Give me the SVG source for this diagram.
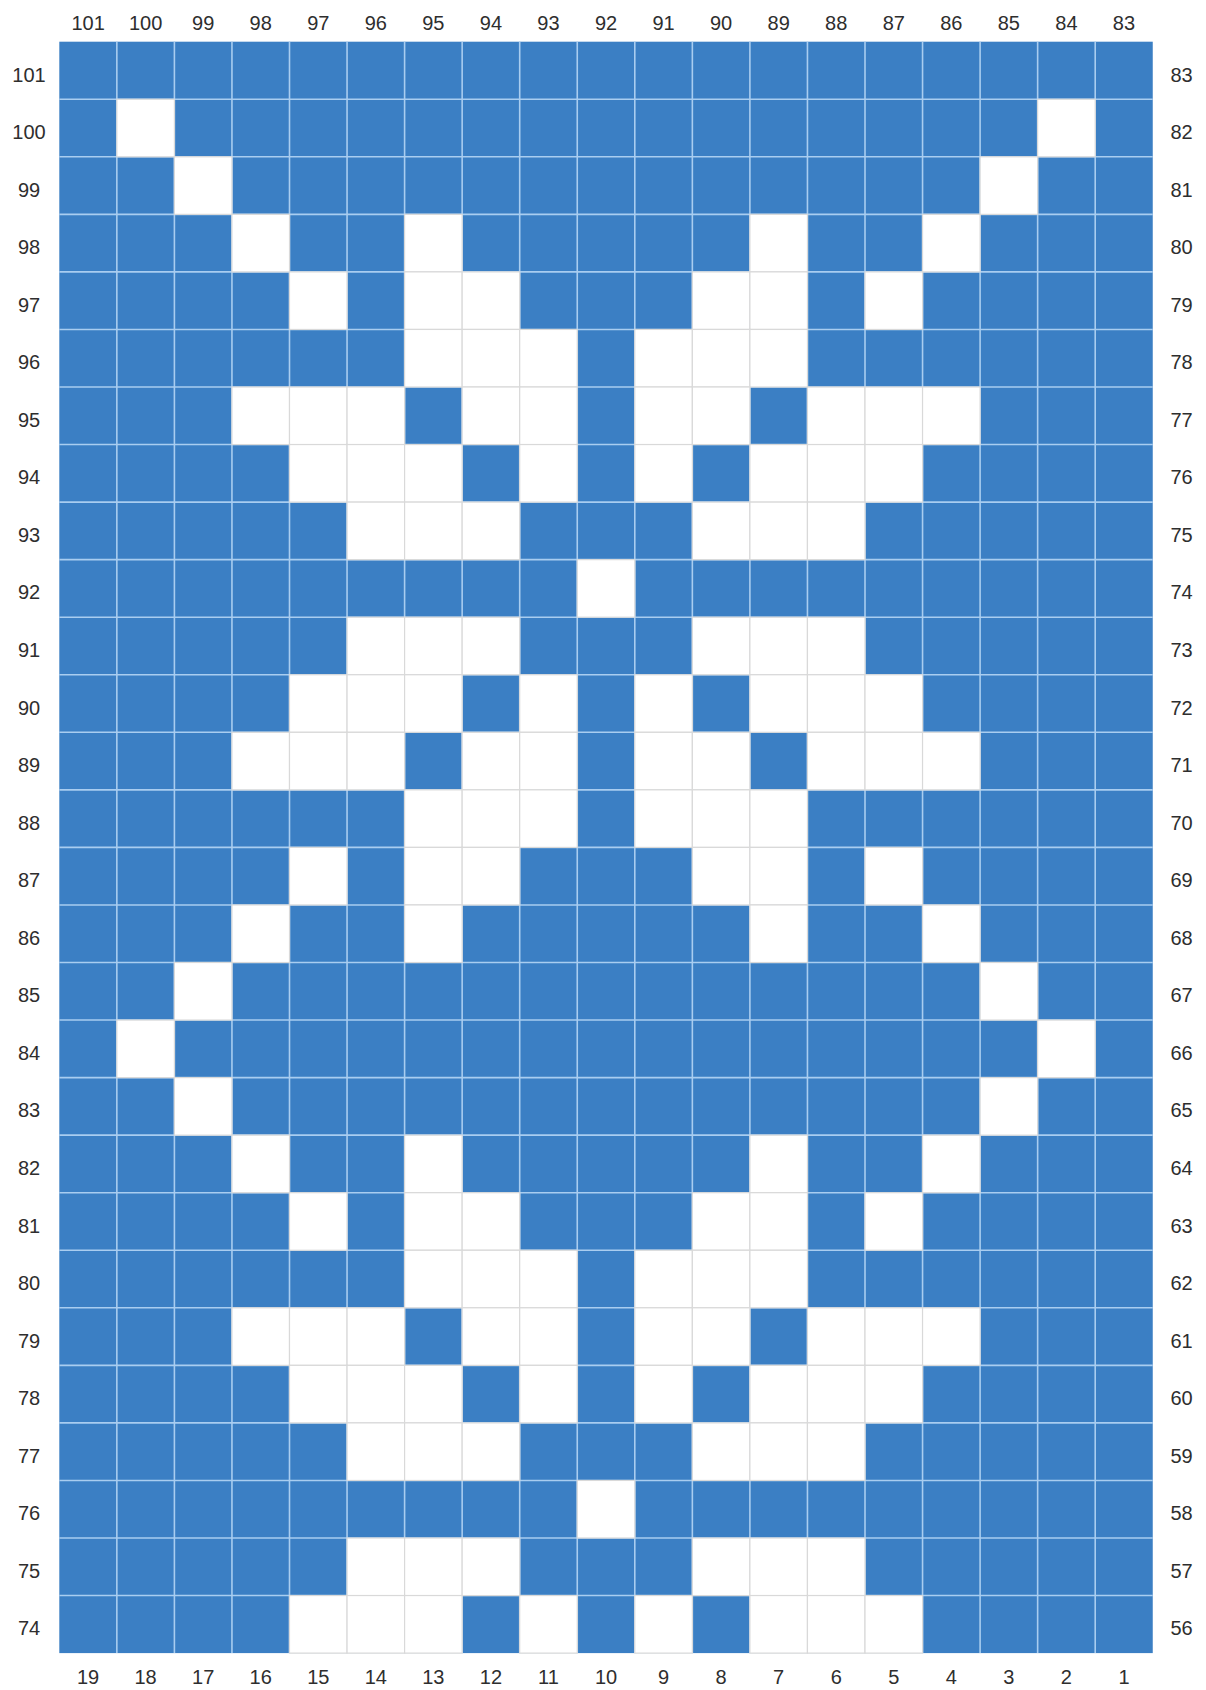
<svg xmlns="http://www.w3.org/2000/svg" xmlns:xlink="http://www.w3.org/1999/xlink" width="1206" height="1690" viewBox="0 0 1206 1690">
<style>
.lbl{font-family:"Liberation Sans",Arial,sans-serif;font-size:20px;fill:#2e2e2e;text-anchor:middle}
.gl{stroke:#a9cdf0;stroke-width:1.6}
.w{fill:#ffffff;stroke:#d9d9d9;stroke-width:1.2}
</style>
<defs>
<rect id="w" width="57.55" height="57.55"/>
</defs>
<rect width="1206" height="1690" fill="#ffffff"/>
<g id="grid">
<rect x="59.3" y="41.7" width="1093.45" height="1611.4" fill="#3b7fc4"/>
<g id="gridlines" class="gl">
<line x1="116.85" y1="41.7" x2="116.85" y2="1653.1"/><line x1="174.4" y1="41.7" x2="174.4" y2="1653.1"/><line x1="231.95" y1="41.7" x2="231.95" y2="1653.1"/><line x1="289.5" y1="41.7" x2="289.5" y2="1653.1"/><line x1="347.05" y1="41.7" x2="347.05" y2="1653.1"/><line x1="404.6" y1="41.7" x2="404.6" y2="1653.1"/><line x1="462.15" y1="41.7" x2="462.15" y2="1653.1"/><line x1="519.7" y1="41.7" x2="519.7" y2="1653.1"/><line x1="577.25" y1="41.7" x2="577.25" y2="1653.1"/><line x1="634.8" y1="41.7" x2="634.8" y2="1653.1"/><line x1="692.35" y1="41.7" x2="692.35" y2="1653.1"/><line x1="749.9" y1="41.7" x2="749.9" y2="1653.1"/><line x1="807.45" y1="41.7" x2="807.45" y2="1653.1"/><line x1="865" y1="41.7" x2="865" y2="1653.1"/><line x1="922.55" y1="41.7" x2="922.55" y2="1653.1"/><line x1="980.1" y1="41.7" x2="980.1" y2="1653.1"/><line x1="1037.65" y1="41.7" x2="1037.65" y2="1653.1"/><line x1="1095.2" y1="41.7" x2="1095.2" y2="1653.1"/>
<line x1="59.3" y1="99.25" x2="1152.75" y2="99.25"/><line x1="59.3" y1="156.8" x2="1152.75" y2="156.8"/><line x1="59.3" y1="214.35" x2="1152.75" y2="214.35"/><line x1="59.3" y1="271.9" x2="1152.75" y2="271.9"/><line x1="59.3" y1="329.45" x2="1152.75" y2="329.45"/><line x1="59.3" y1="387" x2="1152.75" y2="387"/><line x1="59.3" y1="444.55" x2="1152.75" y2="444.55"/><line x1="59.3" y1="502.1" x2="1152.75" y2="502.1"/><line x1="59.3" y1="559.65" x2="1152.75" y2="559.65"/><line x1="59.3" y1="617.2" x2="1152.75" y2="617.2"/><line x1="59.3" y1="674.75" x2="1152.75" y2="674.75"/><line x1="59.3" y1="732.3" x2="1152.75" y2="732.3"/><line x1="59.3" y1="789.85" x2="1152.75" y2="789.85"/><line x1="59.3" y1="847.4" x2="1152.75" y2="847.4"/><line x1="59.3" y1="904.95" x2="1152.75" y2="904.95"/><line x1="59.3" y1="962.5" x2="1152.75" y2="962.5"/><line x1="59.3" y1="1020.05" x2="1152.75" y2="1020.05"/><line x1="59.3" y1="1077.6" x2="1152.75" y2="1077.6"/><line x1="59.3" y1="1135.15" x2="1152.75" y2="1135.15"/><line x1="59.3" y1="1192.7" x2="1152.75" y2="1192.7"/><line x1="59.3" y1="1250.25" x2="1152.75" y2="1250.25"/><line x1="59.3" y1="1307.8" x2="1152.75" y2="1307.8"/><line x1="59.3" y1="1365.35" x2="1152.75" y2="1365.35"/><line x1="59.3" y1="1422.9" x2="1152.75" y2="1422.9"/><line x1="59.3" y1="1480.45" x2="1152.75" y2="1480.45"/><line x1="59.3" y1="1538" x2="1152.75" y2="1538"/><line x1="59.3" y1="1595.55" x2="1152.75" y2="1595.55"/>
</g>
<g id="white-cells" class="w">
<use xlink:href="#w" x="116.85" y="99.25"/><use xlink:href="#w" x="1037.65" y="99.25"/>
<use xlink:href="#w" x="174.4" y="156.8"/><use xlink:href="#w" x="980.1" y="156.8"/>
<use xlink:href="#w" x="231.95" y="214.35"/><use xlink:href="#w" x="404.6" y="214.35"/><use xlink:href="#w" x="749.9" y="214.35"/><use xlink:href="#w" x="922.55" y="214.35"/>
<use xlink:href="#w" x="289.5" y="271.9"/><use xlink:href="#w" x="404.6" y="271.9"/><use xlink:href="#w" x="462.15" y="271.9"/><use xlink:href="#w" x="692.35" y="271.9"/><use xlink:href="#w" x="749.9" y="271.9"/><use xlink:href="#w" x="865" y="271.9"/>
<use xlink:href="#w" x="404.6" y="329.45"/><use xlink:href="#w" x="462.15" y="329.45"/><use xlink:href="#w" x="519.7" y="329.45"/><use xlink:href="#w" x="634.8" y="329.45"/><use xlink:href="#w" x="692.35" y="329.45"/><use xlink:href="#w" x="749.9" y="329.45"/>
<use xlink:href="#w" x="231.95" y="387"/><use xlink:href="#w" x="289.5" y="387"/><use xlink:href="#w" x="347.05" y="387"/><use xlink:href="#w" x="462.15" y="387"/><use xlink:href="#w" x="519.7" y="387"/><use xlink:href="#w" x="634.8" y="387"/><use xlink:href="#w" x="692.35" y="387"/><use xlink:href="#w" x="807.45" y="387"/><use xlink:href="#w" x="865" y="387"/><use xlink:href="#w" x="922.55" y="387"/>
<use xlink:href="#w" x="289.5" y="444.55"/><use xlink:href="#w" x="347.05" y="444.55"/><use xlink:href="#w" x="404.6" y="444.55"/><use xlink:href="#w" x="519.7" y="444.55"/><use xlink:href="#w" x="634.8" y="444.55"/><use xlink:href="#w" x="749.9" y="444.55"/><use xlink:href="#w" x="807.45" y="444.55"/><use xlink:href="#w" x="865" y="444.55"/>
<use xlink:href="#w" x="347.05" y="502.1"/><use xlink:href="#w" x="404.6" y="502.1"/><use xlink:href="#w" x="462.15" y="502.1"/><use xlink:href="#w" x="692.35" y="502.1"/><use xlink:href="#w" x="749.9" y="502.1"/><use xlink:href="#w" x="807.45" y="502.1"/>
<use xlink:href="#w" x="577.25" y="559.65"/>
<use xlink:href="#w" x="347.05" y="617.2"/><use xlink:href="#w" x="404.6" y="617.2"/><use xlink:href="#w" x="462.15" y="617.2"/><use xlink:href="#w" x="692.35" y="617.2"/><use xlink:href="#w" x="749.9" y="617.2"/><use xlink:href="#w" x="807.45" y="617.2"/>
<use xlink:href="#w" x="289.5" y="674.75"/><use xlink:href="#w" x="347.05" y="674.75"/><use xlink:href="#w" x="404.6" y="674.75"/><use xlink:href="#w" x="519.7" y="674.75"/><use xlink:href="#w" x="634.8" y="674.75"/><use xlink:href="#w" x="749.9" y="674.75"/><use xlink:href="#w" x="807.45" y="674.75"/><use xlink:href="#w" x="865" y="674.75"/>
<use xlink:href="#w" x="231.95" y="732.3"/><use xlink:href="#w" x="289.5" y="732.3"/><use xlink:href="#w" x="347.05" y="732.3"/><use xlink:href="#w" x="462.15" y="732.3"/><use xlink:href="#w" x="519.7" y="732.3"/><use xlink:href="#w" x="634.8" y="732.3"/><use xlink:href="#w" x="692.35" y="732.3"/><use xlink:href="#w" x="807.45" y="732.3"/><use xlink:href="#w" x="865" y="732.3"/><use xlink:href="#w" x="922.55" y="732.3"/>
<use xlink:href="#w" x="404.6" y="789.85"/><use xlink:href="#w" x="462.15" y="789.85"/><use xlink:href="#w" x="519.7" y="789.85"/><use xlink:href="#w" x="634.8" y="789.85"/><use xlink:href="#w" x="692.35" y="789.85"/><use xlink:href="#w" x="749.9" y="789.85"/>
<use xlink:href="#w" x="289.5" y="847.4"/><use xlink:href="#w" x="404.6" y="847.4"/><use xlink:href="#w" x="462.15" y="847.4"/><use xlink:href="#w" x="692.35" y="847.4"/><use xlink:href="#w" x="749.9" y="847.4"/><use xlink:href="#w" x="865" y="847.4"/>
<use xlink:href="#w" x="231.95" y="904.95"/><use xlink:href="#w" x="404.6" y="904.95"/><use xlink:href="#w" x="749.9" y="904.95"/><use xlink:href="#w" x="922.55" y="904.95"/>
<use xlink:href="#w" x="174.4" y="962.5"/><use xlink:href="#w" x="980.1" y="962.5"/>
<use xlink:href="#w" x="116.85" y="1020.05"/><use xlink:href="#w" x="1037.65" y="1020.05"/>
<use xlink:href="#w" x="174.4" y="1077.6"/><use xlink:href="#w" x="980.1" y="1077.6"/>
<use xlink:href="#w" x="231.95" y="1135.15"/><use xlink:href="#w" x="404.6" y="1135.15"/><use xlink:href="#w" x="749.9" y="1135.15"/><use xlink:href="#w" x="922.55" y="1135.15"/>
<use xlink:href="#w" x="289.5" y="1192.7"/><use xlink:href="#w" x="404.6" y="1192.7"/><use xlink:href="#w" x="462.15" y="1192.7"/><use xlink:href="#w" x="692.35" y="1192.7"/><use xlink:href="#w" x="749.9" y="1192.7"/><use xlink:href="#w" x="865" y="1192.7"/>
<use xlink:href="#w" x="404.6" y="1250.25"/><use xlink:href="#w" x="462.15" y="1250.25"/><use xlink:href="#w" x="519.7" y="1250.25"/><use xlink:href="#w" x="634.8" y="1250.25"/><use xlink:href="#w" x="692.35" y="1250.25"/><use xlink:href="#w" x="749.9" y="1250.25"/>
<use xlink:href="#w" x="231.95" y="1307.8"/><use xlink:href="#w" x="289.5" y="1307.8"/><use xlink:href="#w" x="347.05" y="1307.8"/><use xlink:href="#w" x="462.15" y="1307.8"/><use xlink:href="#w" x="519.7" y="1307.8"/><use xlink:href="#w" x="634.8" y="1307.8"/><use xlink:href="#w" x="692.35" y="1307.8"/><use xlink:href="#w" x="807.45" y="1307.8"/><use xlink:href="#w" x="865" y="1307.8"/><use xlink:href="#w" x="922.55" y="1307.8"/>
<use xlink:href="#w" x="289.5" y="1365.35"/><use xlink:href="#w" x="347.05" y="1365.35"/><use xlink:href="#w" x="404.6" y="1365.35"/><use xlink:href="#w" x="519.7" y="1365.35"/><use xlink:href="#w" x="634.8" y="1365.35"/><use xlink:href="#w" x="749.9" y="1365.35"/><use xlink:href="#w" x="807.45" y="1365.35"/><use xlink:href="#w" x="865" y="1365.35"/>
<use xlink:href="#w" x="347.05" y="1422.9"/><use xlink:href="#w" x="404.6" y="1422.9"/><use xlink:href="#w" x="462.15" y="1422.9"/><use xlink:href="#w" x="692.35" y="1422.9"/><use xlink:href="#w" x="749.9" y="1422.9"/><use xlink:href="#w" x="807.45" y="1422.9"/>
<use xlink:href="#w" x="577.25" y="1480.45"/>
<use xlink:href="#w" x="347.05" y="1538"/><use xlink:href="#w" x="404.6" y="1538"/><use xlink:href="#w" x="462.15" y="1538"/><use xlink:href="#w" x="692.35" y="1538"/><use xlink:href="#w" x="749.9" y="1538"/><use xlink:href="#w" x="807.45" y="1538"/>
<use xlink:href="#w" x="289.5" y="1595.55"/><use xlink:href="#w" x="347.05" y="1595.55"/><use xlink:href="#w" x="404.6" y="1595.55"/><use xlink:href="#w" x="519.7" y="1595.55"/><use xlink:href="#w" x="634.8" y="1595.55"/><use xlink:href="#w" x="749.9" y="1595.55"/><use xlink:href="#w" x="807.45" y="1595.55"/><use xlink:href="#w" x="865" y="1595.55"/>
</g>
</g>
<g id="top-labels" class="lbl">
<text x="88.08" y="30">101</text><text x="145.63" y="30">100</text><text x="203.18" y="30">99</text><text x="260.73" y="30">98</text><text x="318.28" y="30">97</text><text x="375.83" y="30">96</text><text x="433.38" y="30">95</text><text x="490.93" y="30">94</text><text x="548.48" y="30">93</text><text x="606.03" y="30">92</text><text x="663.58" y="30">91</text><text x="721.13" y="30">90</text><text x="778.68" y="30">89</text><text x="836.23" y="30">88</text><text x="893.78" y="30">87</text><text x="951.33" y="30">86</text><text x="1008.88" y="30">85</text><text x="1066.43" y="30">84</text><text x="1123.98" y="30">83</text>
</g>
<g id="bottom-labels" class="lbl">
<text x="88.08" y="1684">19</text><text x="145.63" y="1684">18</text><text x="203.18" y="1684">17</text><text x="260.73" y="1684">16</text><text x="318.28" y="1684">15</text><text x="375.83" y="1684">14</text><text x="433.38" y="1684">13</text><text x="490.93" y="1684">12</text><text x="548.48" y="1684">11</text><text x="606.03" y="1684">10</text><text x="663.58" y="1684">9</text><text x="721.13" y="1684">8</text><text x="778.68" y="1684">7</text><text x="836.23" y="1684">6</text><text x="893.78" y="1684">5</text><text x="951.33" y="1684">4</text><text x="1008.88" y="1684">3</text><text x="1066.43" y="1684">2</text><text x="1123.98" y="1684">1</text>
</g>
<g id="left-labels" class="lbl">
<text x="29" y="81.5">101</text><text x="29" y="139">100</text><text x="29" y="196.6">99</text><text x="29" y="254.1">98</text><text x="29" y="311.7">97</text><text x="29" y="369.2">96</text><text x="29" y="426.8">95</text><text x="29" y="484.3">94</text><text x="29" y="541.9">93</text><text x="29" y="599.4">92</text><text x="29" y="657">91</text><text x="29" y="714.5">90</text><text x="29" y="772.1">89</text><text x="29" y="829.6">88</text><text x="29" y="887.2">87</text><text x="29" y="944.7">86</text><text x="29" y="1002.3">85</text><text x="29" y="1059.8">84</text><text x="29" y="1117.4">83</text><text x="29" y="1174.9">82</text><text x="29" y="1232.5">81</text><text x="29" y="1290">80</text><text x="29" y="1347.6">79</text><text x="29" y="1405.1">78</text><text x="29" y="1462.7">77</text><text x="29" y="1520.2">76</text><text x="29" y="1577.8">75</text><text x="29" y="1635.3">74</text>
</g>
<g id="right-labels" class="lbl">
<text x="1181.5" y="81.5">83</text><text x="1181.5" y="139">82</text><text x="1181.5" y="196.6">81</text><text x="1181.5" y="254.1">80</text><text x="1181.5" y="311.7">79</text><text x="1181.5" y="369.2">78</text><text x="1181.5" y="426.8">77</text><text x="1181.5" y="484.3">76</text><text x="1181.5" y="541.9">75</text><text x="1181.5" y="599.4">74</text><text x="1181.5" y="657">73</text><text x="1181.5" y="714.5">72</text><text x="1181.5" y="772.1">71</text><text x="1181.5" y="829.6">70</text><text x="1181.5" y="887.2">69</text><text x="1181.5" y="944.7">68</text><text x="1181.5" y="1002.3">67</text><text x="1181.5" y="1059.8">66</text><text x="1181.5" y="1117.4">65</text><text x="1181.5" y="1174.9">64</text><text x="1181.5" y="1232.5">63</text><text x="1181.5" y="1290">62</text><text x="1181.5" y="1347.6">61</text><text x="1181.5" y="1405.1">60</text><text x="1181.5" y="1462.7">59</text><text x="1181.5" y="1520.2">58</text><text x="1181.5" y="1577.8">57</text><text x="1181.5" y="1635.3">56</text>
</g>
</svg>
